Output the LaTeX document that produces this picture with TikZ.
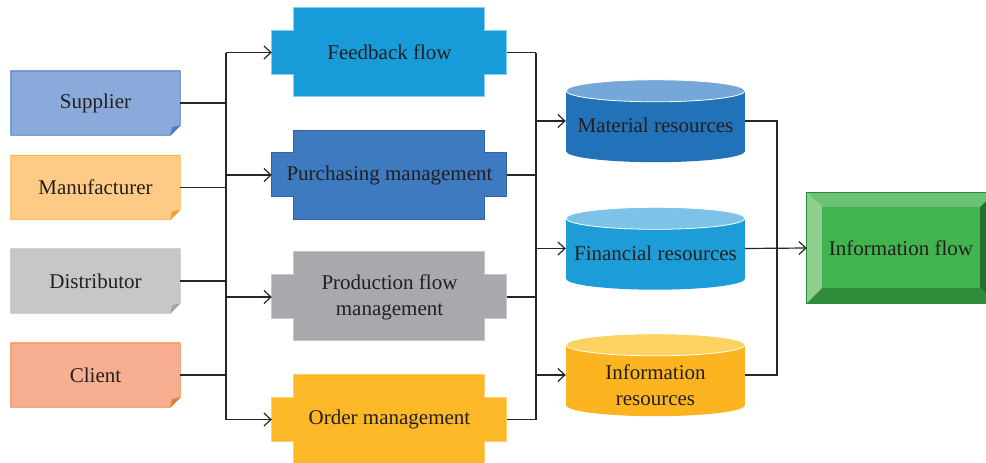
\documentclass[tikz,border=0pt]{standalone}
\usepackage{fontspec}
\setmainfont{Liberation Serif}
\usetikzlibrary{arrows.meta,backgrounds}

\definecolor{txt}{HTML}{231F20}
\definecolor{lin}{HTML}{262626}
% source boxes
\definecolor{supF}{HTML}{8AAADB}\definecolor{supD}{HTML}{3C78C2}\definecolor{supK}{HTML}{4A7CC4}
\definecolor{manF}{HTML}{FDCB85}\definecolor{manD}{HTML}{F6B73C}\definecolor{manK}{HTML}{E4A33A}
\definecolor{disF}{HTML}{C7C7C7}\definecolor{disD}{HTML}{BDBDBD}\definecolor{disK}{HTML}{A3A3A5}
\definecolor{cliF}{HTML}{F8AE90}\definecolor{cliD}{HTML}{F08236}\definecolor{cliK}{HTML}{E07A3A}
% process shapes
\definecolor{fbF}{HTML}{189CD9}\definecolor{fbD}{HTML}{8ACCEE}
\definecolor{purF}{HTML}{3E7AC0}\definecolor{purD}{HTML}{2F64A6}
\definecolor{proF}{HTML}{A8A9AD}\definecolor{proD}{HTML}{C8C9CB}
\definecolor{ordF}{HTML}{FCB827}\definecolor{ordD}{HTML}{FDD06C}
% resource cylinders
\definecolor{matB}{HTML}{2272BA}\definecolor{matT}{HTML}{76A7D9}
\definecolor{finB}{HTML}{1D9DD8}\definecolor{finT}{HTML}{7DC3E7}
\definecolor{irsB}{HTML}{FCB421}\definecolor{irsT}{HTML}{FDD260}
% information flow block
\definecolor{infM}{HTML}{42B44F}\definecolor{infT}{HTML}{6CC274}
\definecolor{infL}{HTML}{8CCF8F}\definecolor{infB}{HTML}{2E8C3A}
\definecolor{infR}{HTML}{226F2C}\definecolor{infD}{HTML}{2E8B3A}

% note with a folded lower right corner
\newcommand\drawnote[4]{%
  \path[fill=#2, draw=#3, line width=0.9pt] (#1.north west) -- (#1.north east)
    -- ([yshift=10pt]#1.south east) -- ([xshift=-10pt]#1.south east)
    -- (#1.south west) -- cycle;
  \fill[#4] ([yshift=10pt]#1.south east) -- ([xshift=-10pt]#1.south east)
    -- ([shift={(-8pt,8pt)}]#1.south east) -- cycle;}
% cross shaped process block
\newcommand\drawproc[3]{%
  \path[fill=#2, draw=#3, line width=0.8pt] (#1.north west) -- ++(22,0) -- ++(0,-22.5)
    -- ++(191,0) -- ++(0,22.5) -- ++(22,0) -- ++(0,44) -- ++(-22,0) -- ++(0,22.5)
    -- ++(-191,0) -- ++(0,-22.5) -- ++(-22,0) -- cycle;}
% upright cylinder
\newcommand\drawcyl[3]{%
  \fill[#2] ([yshift=-11pt]#1.north west) rectangle ([yshift=11pt]#1.south east);
  \fill[#2] ([yshift=11pt]#1.south) ellipse [x radius=89.5pt, y radius=11pt];
  \path[fill=#3, draw=white, line width=0.8pt] ([yshift=-11pt]#1.north)
    ellipse [x radius=89.5pt, y radius=11pt];}
% bevelled block
\newcommand\drawbevel[1]{%
  \coordinate (tl) at ([shift={(15pt,-14pt)}]#1.north west);
  \coordinate (tr) at ([shift={(-15pt,-14pt)}]#1.north east);
  \coordinate (bl) at ([shift={(15pt,15pt)}]#1.south west);
  \coordinate (br) at ([shift={(-15pt,15pt)}]#1.south east);
  \fill[infT] (#1.north west) -- (#1.north east) -- (tr) -- (tl) -- cycle;
  \fill[infL] (#1.north west) -- (tl) -- (bl) -- (#1.south west) -- cycle;
  \fill[infB] (#1.south west) -- (bl) -- (br) -- (#1.south east) -- cycle;
  \fill[infR] (#1.north east) -- (#1.south east) -- (br) -- (tr) -- cycle;
  \fill[infM] (tl) rectangle (br);
  \draw[infD, line width=0.8pt] (#1.north west) rectangle (#1.south east);}

\begin{document}
\begin{tikzpicture}[x=1pt, y=-1pt,
  font=\fontsize{21}{26}\selectfont, text=txt,
  conn/.style={draw=lin, line width=1.2pt},
  arr/.style={conn, -{Straight Barb[length=7pt,width=13pt,line width=1.2pt]}},
  notebox/.style={inner sep=0pt, minimum width=169pt, minimum height=64pt},
  procbox/.style={inner sep=0pt, align=center, minimum width=235pt, minimum height=44pt},
  cylbox/.style={inner sep=0pt, minimum width=179pt, minimum height=82pt},
  lbl/.style={inner sep=0pt, align=center},
  bevelbox/.style={inner sep=0pt, minimum width=188pt, minimum height=110pt}]
\useasboundingbox (0,0) rectangle (986,463);

% sources
\node[notebox] (sup) at (95.5,103) {Supplier};
\node[notebox] (man) at (95.5,187.5) {Manufacturer};
\node[notebox] (dis) at (95.5,281) {Distributor};
\node[notebox] (cli) at (95.5,375) {Client};

% management processes
\node[procbox] (fb)  at (389.5,52.5) {Feedback flow};
\node[procbox] (pur) at (389.5,175) {Purchasing management};
\node[procbox] (pro) at (389.5,297) {Production flow\\management};
\node[procbox] (ord) at (389.5,419.5) {Order management};

% resources
\node[cylbox] (mat) at (655.5,121) {};
\node[cylbox] (fin) at (655.5,248.5) {};
\node[cylbox] (irs) at (655.5,375) {};
\node[lbl] (matL) at (655.5,125) {Material resources};
\node[lbl] (finL) at (655.5,253) {Financial resources};
\node[lbl] (irsL) at (655.5,385) {Information\\resources};

% result
\node[bevelbox] (inf) at (901,248) {Information flow};

\begin{scope}[on background layer]
  \drawnote{sup}{supF}{supD}{supK}
  \drawnote{man}{manF}{manD}{manK}
  \drawnote{dis}{disF}{disD}{disK}
  \drawnote{cli}{cliF}{cliD}{cliK}
  \drawproc{fb}{fbF}{fbD}
  \drawproc{pur}{purF}{purD}
  \drawproc{pro}{proF}{proD}
  \drawproc{ord}{ordF}{ordD}
  \drawcyl{mat}{matB}{matT}
  \drawcyl{fin}{finB}{finT}
  \drawcyl{irs}{irsB}{irsT}
  \drawbevel{inf}
\end{scope}

% bus lines
\coordinate (lb) at (226,0);
\coordinate (rb) at (536,0);
\coordinate (ob) at (777,0);

\foreach \n in {sup,man,dis,cli}
  \draw[conn] (\n.east) -- (\n.east -| lb);
\draw[conn] (fb.west -| lb) -- (ord.west -| lb);
\foreach \n in {fb,pur,pro,ord}
  \draw[arr] (\n.west -| lb) -- (\n.west);

\foreach \n in {fb,pur,pro,ord}
  \draw[conn] (\n.east) -- (\n.east -| rb);
\draw[conn] (fb.east -| rb) -- (ord.east -| rb);
\foreach \n in {mat,fin,irs}
  \draw[arr] (\n.west -| rb) -- (\n.west);

\draw[conn] (mat.east) -- (mat.east -| ob) -- (irs.east -| ob) -- (irs.east);
\draw[arr] (fin.east) -- (inf.west);
\end{tikzpicture}
\end{document}
